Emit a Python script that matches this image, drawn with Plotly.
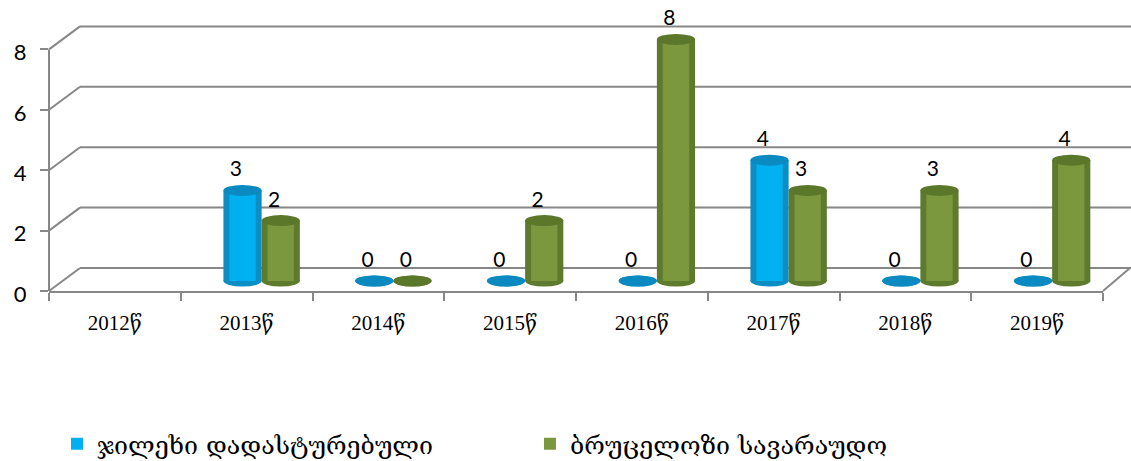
import plotly.graph_objects as go

# ---------------- data ----------------
categories = ["2012წ", "2013წ", "2014წ", "2015წ", "2016წ", "2017წ", "2018წ", "2019წ"]
confirmed = [None, 3, 0, 0, 0, 4, 0, 0]      # ჯილეხი დადასტურებული
suspected = [None, 2, 0, 2, 8, 3, 3, 4]      # ბრუცელოზი სავარაუდო
series_names = ["ჯილეხი დადასტურებული", "ბრუცელოზი სავარაუდო"]
y_ticks = [0, 2, 4, 6, 8]

# ---------------- geometry / style ----------------
W, H = 1131, 461
ML, MR, MT, MB = 49, 28, 5, 170
PW, PH = W - ML - MR, H - MT - MB
PXU = 30.2                      # pixels per value unit
YTOP = PH / PXU
NCAT = len(categories)
PXC = PW / NCAT                 # pixels per category
BAR_DX, BAR_DY = 15, 10         # bar plane depth offset (px)
BACK_DX, BACK_DY = 31, 23       # back wall offset (px)
BW = 0.29                       # bar width (category units)
GRAY = "#878787"

colors = [
    dict(main="#00B0F0", edge="#0B8EC4", cap="#0A8AC0"),
    dict(main="#7B983F", edge="#5E7A2C", cap="#5B772A"),
]

def fx(xpix):
    return (xpix - ML) / PW

def fy(ypix):
    return (H - MB - ypix) / PH

def front_y(v):
    return H - MB - v * PXU

fig = go.Figure()

# invisible trace so that the front axes are drawn
fig.add_trace(go.Scatter(x=categories, y=[None] * NCAT, mode="markers",
                         showlegend=False, hoverinfo="skip"))

series = [confirmed, suspected]
offsets = [-BW, 0.0]
legends = ["legend", "legend2"]
for s, vals in enumerate(series):
    c = colors[s]
    fig.add_trace(go.Bar(
        x=categories, y=vals, xaxis="x2", yaxis="y2",
        offset=offsets[s], width=BW,
        marker=dict(color=c["edge"], line=dict(width=0)),
        showlegend=False, hoverinfo="skip",
    ))
    fig.add_trace(go.Bar(
        x=categories, y=vals, xaxis="x2", yaxis="y2",
        offset=offsets[s] + 0.045, width=BW - 0.09,
        marker=dict(color=c["main"], line=dict(width=0)),
        name=series_names[s], showlegend=True, legend=legends[s],
    ))

# data labels (transparent bars lifted a little so labels clear the cylinder caps)
LIFT = 7 / PXU
for s, vals in enumerate(series):
    texts = ["" if v is None else str(v) for v in vals]
    fig.add_trace(go.Bar(
        x=categories, y=vals, base=LIFT, xaxis="x2", yaxis="y2",
        offset=offsets[s] - 0.05, width=BW,
        marker=dict(color="rgba(0,0,0,0)", line=dict(width=0)),
        text=texts, textposition="outside", cliponaxis=False,
        textfont=dict(size=21, color="#000000", family="Lato"),
        showlegend=False, hoverinfo="skip",
    ))

shapes = []
# back wall & floor
for v in y_ticks:
    yf = front_y(v)
    shapes.append(dict(type="line", xref="paper", yref="paper",
                       x0=fx(ML), y0=fy(yf), x1=fx(ML + BACK_DX), y1=fy(yf - BACK_DY),
                       line=dict(color=GRAY, width=2), layer="below"))
    shapes.append(dict(type="line", xref="paper", yref="paper",
                       x0=fx(ML + BACK_DX), y0=fy(yf - BACK_DY),
                       x1=fx(W + 5), y1=fy(yf - BACK_DY),
                       line=dict(color=GRAY, width=2), layer="below"))
shapes.append(dict(type="line", xref="paper", yref="paper",
                   x0=0, y0=0, x1=0, y1=fy(front_y(max(y_ticks))),
                   line=dict(color=GRAY, width=2), layer="below"))
shapes.append(dict(type="line", xref="paper", yref="paper",
                   x0=1, y0=0, x1=fx(ML + PW + 27), y1=fy(front_y(0) - BACK_DY),
                   line=dict(color=GRAY, width=2), layer="below"))

# cylinder caps
capH = 5.5 / PXU
for s, vals in enumerate(series):
    c = colors[s]
    for i, v in enumerate(vals):
        if v is None:
            continue
        x0 = i + offsets[s]
        x1 = x0 + BW
        shapes.append(dict(type="circle", xref="x2", yref="y2",
                           x0=x0, x1=x1, y0=-capH, y1=capH,
                           fillcolor=c["edge"], line=dict(width=0), layer="below"))
        shapes.append(dict(type="circle", xref="x2", yref="y2",
                           x0=x0, x1=x1, y0=v - capH, y1=v + capH,
                           fillcolor=c["cap"], line=dict(width=0), layer="above"))

legend_font = dict(family="DejaVu Serif", size=25, color="#000000")

fig.update_layout(
    width=W, height=H,
    margin=dict(l=ML, r=MR, t=MT, b=MB, autoexpand=False),
    paper_bgcolor="white", plot_bgcolor="white",
    barmode="overlay",
    font=dict(family="Lato", size=21, color="#000000"),
    shapes=shapes,
    xaxis=dict(type="category", categoryarray=categories, range=[-0.5, NCAT - 0.5],
               showline=True, linecolor=GRAY, linewidth=2,
               ticks="outside", tickson="boundaries", ticklen=8, tickwidth=2, tickcolor=GRAY,
               showgrid=False, zeroline=False, ticklabelstandoff=12, automargin=False,
               tickfont=dict(family="Liberation Serif, DejaVu Serif", size=21, color="#000000")),
    yaxis=dict(range=[0, YTOP], tickvals=y_ticks, showline=False, showgrid=False, zeroline=False,
               ticks="outside", ticklen=8, tickwidth=2, tickcolor=GRAY, ticklabelstandoff=9,
               ticklabelshift=3, automargin=False,
               tickfont=dict(family="Lato", size=22, color="#000000")),
    xaxis2=dict(type="category", categoryarray=categories, overlaying="x", anchor="y2",
                range=[-0.5 - BAR_DX / PXC, NCAT - 0.5 - BAR_DX / PXC], visible=False),
    yaxis2=dict(overlaying="y", anchor="x2", range=[-BAR_DY / PXU, YTOP - BAR_DY / PXU],
                visible=False),
    legend=dict(orientation="h", x=fx(57), y=fy(444), xanchor="left", yanchor="middle",
                font=legend_font),
    legend2=dict(orientation="h", x=fx(530), y=fy(444), xanchor="left", yanchor="middle",
                 font=legend_font),
    showlegend=True,
)

fig.write_html("out.html", config={"displayModeBar": False},
               post_script="document.body.style.margin='0';document.body.style.padding='0';")
